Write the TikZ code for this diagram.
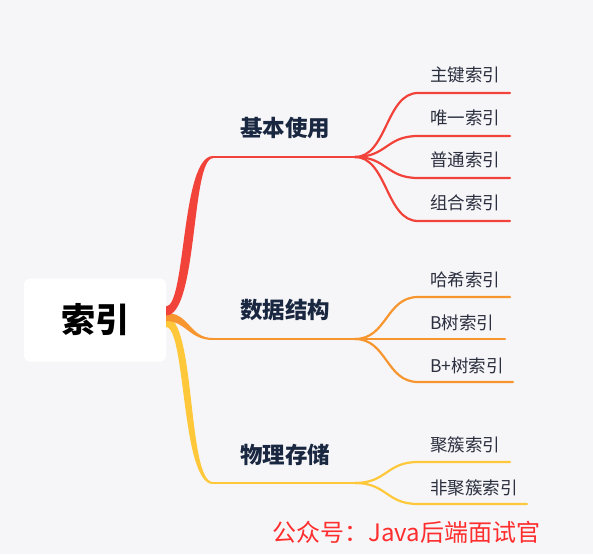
\documentclass[tikz,border=0pt]{standalone}
\usepackage{fontspec}
\setmainfont{Noto Sans CJK SC}
\usetikzlibrary{calc}
\definecolor{bgc}{HTML}{F6F6F9}
\definecolor{cred}{HTML}{F2433A}
\definecolor{corange}{HTML}{F7952F}
\definecolor{cyellow}{HTML}{FFC83A}
\definecolor{navy}{HTML}{1A2740}
\definecolor{txt}{HTML}{2B2F3E}
\definecolor{wm}{HTML}{FF2E2E}
\tikzset{
  root/.style={fill=white, rounded corners=6pt, minimum width=142pt, minimum height=83pt, inner sep=0pt, font=\fontsize{34}{36}\selectfont\bfseries, text=black},
  branchlbl/.style={font=\fontsize{22.5}{25}\selectfont\bfseries, text=navy, inner sep=0pt},
  leaflbl/.style={font=\fontsize{17.5}{20}\selectfont, text=txt, inner sep=0pt, anchor=west},
  edge/.style={line width=2.2pt, line cap=round},
  wmark/.style={font=\fontsize{24}{26}\selectfont, text=wm, inner sep=0pt, anchor=west}
}
\begin{document}
\begin{tikzpicture}[x=1pt,y=-1pt]
\fill[bgc] (0,0) rectangle (593,554);
\useasboundingbox (0,0) rectangle (593,554);

\node[root] (root) at (95,320) {索引};

% main branch coordinates
\coordinate (A0) at (166,311);
\coordinate (A1) at (213,157);
\coordinate (B0) at (166,317);
\coordinate (B1) at (213,339);
\coordinate (C0) at (166,322);
\coordinate (C1) at (213,483);
% fan points
\coordinate (A2) at (355,157);
\coordinate (B2) at (355,339);
\coordinate (C2) at (355,483);

% tapered main branches
\fill[cyellow] ($(C0)+(0,-5)$) .. controls ($(C0)+(30,-5)$) and ($(C1)+(-26,-1)$) .. ($(C1)+(0,-1)$)
  -- ($(C1)+(0,1)$) .. controls ($(C1)+(-32,1)$) and ($(C0)+(20,5)$) .. ($(C0)+(0,5)$) -- cycle;
\fill[corange] ($(B0)+(0,-4)$) .. controls ($(B0)+(24,-4)$) and ($(B1)+(-24,-1)$) .. ($(B1)+(0,-1)$)
  -- ($(B1)+(0,1)$) .. controls ($(B1)+(-24,1)$) and ($(B0)+(20,4)$) .. ($(B0)+(0,4)$) -- cycle;
\fill[cred] ($(A0)+(0,-4.5)$) .. controls ($(A0)+(20,-4.5)$) and ($(A1)+(-32,-1)$) .. ($(A1)+(0,-1)$)
  -- ($(A1)+(0,1.2)$) .. controls ($(A1)+(-22,1.2)$) and ($(A0)+(32,4.5)$) .. ($(A0)+(0,4.5)$) -- cycle;

% horizontal stems
\draw[edge, cred] (A1) -- (A2);
\draw[edge, corange] (B1) -- (B2);
\draw[edge, cyellow] (C1) -- (C2);

% branch labels
\node[branchlbl] (nA) at (285,128) {基本使用};
\node[branchlbl] (nB) at (285,310) {数据结构};
\node[branchlbl] (nC) at (285,455) {物理存储};

% leaf line coordinates (start, end)
\coordinate (a1s) at (418,93)  ; \coordinate (a1e) at (510,93);
\coordinate (a2s) at (418,136) ; \coordinate (a2e) at (510,136);
\coordinate (a3s) at (418,178) ; \coordinate (a3e) at (510,178);
\coordinate (a4s) at (418,221) ; \coordinate (a4e) at (510,221);
\coordinate (b1s) at (418,297) ; \coordinate (b1e) at (510,297);
\coordinate (b2s) at (418,339) ; \coordinate (b2e) at (505,339);
\coordinate (b3s) at (418,382) ; \coordinate (b3e) at (513,382);
\coordinate (c1s) at (418,462) ; \coordinate (c1e) at (510,462);
\coordinate (c2s) at (418,504) ; \coordinate (c2e) at (527,504);

\foreach \s/\c in {a1/cred,a2/cred,a3/cred,a4/cred}{
  \draw[edge, \c] (A2) .. controls ($(A2)+(32,0)$) and ($(\s s)+(-32,0)$) .. (\s s) -- (\s e);
}
\foreach \s/\c in {b1/corange,b2/corange,b3/corange}{
  \draw[edge, \c] (B2) .. controls ($(B2)+(32,0)$) and ($(\s s)+(-32,0)$) .. (\s s) -- (\s e);
}
\foreach \s/\c in {c1/cyellow,c2/cyellow}{
  \draw[edge, \c] (C2) .. controls ($(C2)+(32,0)$) and ($(\s s)+(-32,0)$) .. (\s s) -- (\s e);
}

% leaf labels
\node[leaflbl] (la1) at (430,75)  {主键索引};
\node[leaflbl] (la2) at (430,118) {唯一索引};
\node[leaflbl] (la3) at (430,160) {普通索引};
\node[leaflbl] (la4) at (430,203) {组合索引};
\node[leaflbl] (lb1) at (430,280) {哈希索引};
\node[leaflbl] (lb2) at (430,323) {B树索引};
\node[leaflbl] (lb3) at (430,366) {B+树索引};
\node[leaflbl] (lc1) at (430,445) {聚簇索引};
\node[leaflbl] (lc2) at (430,488) {非聚簇索引};

% watermark
\node[wmark] (wmk) at (272,532) {公众号：Java后端面试官};
\end{tikzpicture}
\end{document}
